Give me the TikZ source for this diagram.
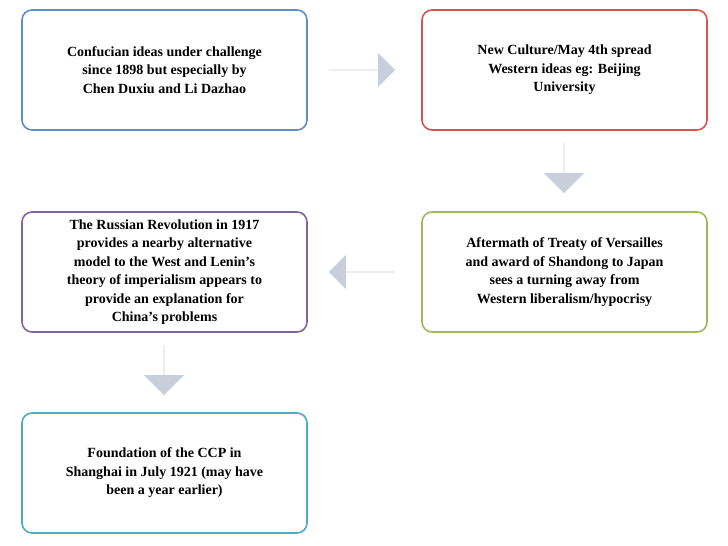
\documentclass[tikz,border=0pt]{standalone}
\usepackage{fontspec}
\setmainfont{Liberation Serif}
\usetikzlibrary{shapes.arrows,positioning}
\definecolor{cblue}{HTML}{5B8FC9}
\definecolor{cred}{HTML}{D9534F}
\definecolor{cgreen}{HTML}{9BBB59}
\definecolor{cpurple}{HTML}{8064A2}
\definecolor{ccyan}{HTML}{4BACC6}
\definecolor{cgrey}{HTML}{C9CEDB}

\begin{document}
\begin{tikzpicture}[x=1pt,y=1pt,box/.style={draw,line width=1.6pt,rounded corners=10pt,fill=white,minimum width=285pt,minimum height=120pt,align=center,font=\bfseries\fontsize{14}{18.5}\selectfont},blockarrow/.style={single arrow,fill=cgrey,draw=none,minimum height=66pt,minimum width=34pt,single arrow head extend=10pt,inner sep=0pt}]
	\useasboundingbox (0,0) rectangle (728,546);
	\node[box,draw=cblue] (ideas) at (164.5,476) {Confucian ideas under challenge\\since 1898 but especially by\\Chen Duxiu and Li Dazhao};
	\node[box,draw=cred] (culture) at (564.5,476) {New Culture/May 4th spread\\Western ideas eg: Beijing\\University};
	\node[box,draw=cgreen] (versailles) at (564.5,274) {Aftermath of Treaty of Versailles\\and award of Shandong to Japan\\sees a turning away from\\Western liberalism/hypocrisy};
	\node[box,draw=cpurple] (russia) at (164.5,274) {The Russian Revolution in 1917\\provides a nearby alternative\\model to the West and Lenin's\\theory of imperialism appears to\\provide an explanation for\\China's problems};
	\node[box,draw=ccyan] (ccp) at (164.5,73) {Foundation of the CCP in\\Shanghai in July 1921 (may have\\been a year earlier)};
	% block arrows
	\node[blockarrow] (a1) at (362,476) {};
	\node[blockarrow,shape border rotate=270,minimum height=50pt,minimum width=40pt,single arrow head extend=14pt] (a2) at (564,378) {};
	\node[blockarrow,shape border rotate=180] (a3) at (362,274) {};
	\node[blockarrow,shape border rotate=270,minimum height=50pt,minimum width=40pt,single arrow head extend=14pt] (a4) at (164,176) {};
\end{tikzpicture}
\end{document}
